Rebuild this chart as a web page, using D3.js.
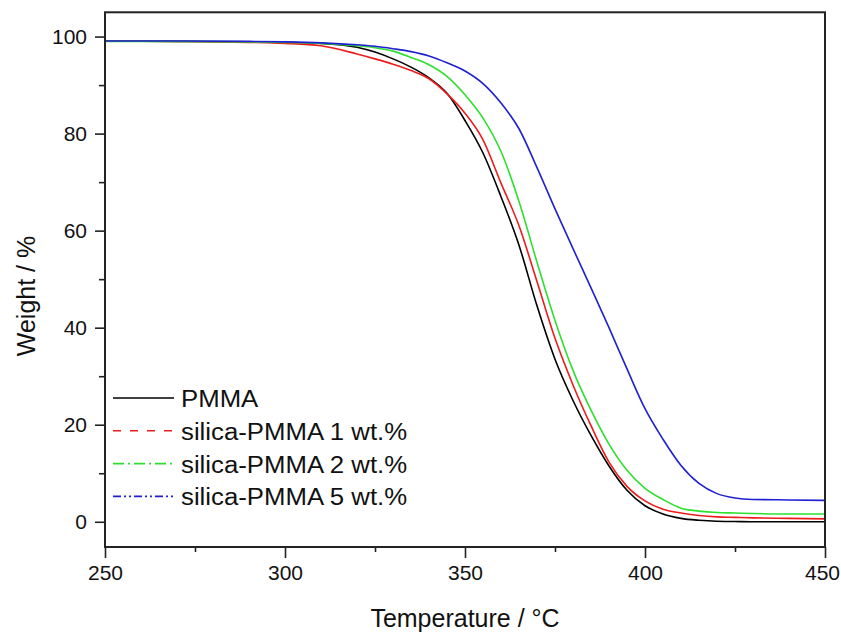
<!DOCTYPE html>
<html>
<head>
<meta charset="utf-8">
<script src="https://cdn.jsdelivr.net/npm/d3@7"></script>
<style>
  body { margin: 0; background: #fff; }
  text { font-family: Arial, "Liberation Sans", sans-serif; fill: #111; }
</style>
</head>
<body>
<div id="chart"></div>
<script>
// temperature grid (°C) and weight (%)
const temperatures = [250, 270, 290, 300, 310, 320, 325, 330, 335, 340, 345, 350, 355, 360, 365,
  370, 375, 380, 385, 390, 395, 400, 405, 410, 415, 420, 425, 430, 440, 450];
const pmma = [99.1, 99.0, 98.9, 98.8, 98.6, 97.8, 96.8, 95.4, 93.7, 91.5, 88.3, 82.7, 76.0, 67.0, 57.0,
  44.5, 33.5, 25.0, 17.8, 11.5, 6.5, 3.3, 1.6, 0.7, 0.3, 0.1, 0.05, 0.0, 0.0, 0.0];
const silica1 = [99.1, 99.0, 98.8, 98.6, 98.1, 96.4, 95.4, 94.3, 93.0, 91.3, 88.2, 84.2, 78.7, 69.8, 61.0,
  49.5, 37.8, 28.2, 19.8, 12.3, 7.3, 4.3, 2.6, 1.8, 1.3, 1.0, 0.9, 0.8, 0.7, 0.6];
const silica2 = [99.0, 99.0, 98.9, 98.8, 98.6, 98.1, 97.7, 97.0, 95.7, 94.2, 91.8, 88.0, 83.2, 76.3, 66.0,
  53.5, 41.5, 31.2, 23.0, 16.0, 10.6, 6.9, 4.6, 2.8, 2.2, 1.9, 1.8, 1.7, 1.6, 1.6];
const silica5 = [99.1, 99.1, 99.0, 98.9, 98.7, 98.3, 98.0, 97.5, 96.9, 96.0, 94.6, 92.9, 90.3, 86.3, 81.0,
  73.0, 64.5, 56.3, 48.2, 40.0, 31.5, 23.3, 17.0, 11.6, 7.9, 5.8, 4.9, 4.6, 4.5, 4.4];

const seriesNames = ['PMMA', 'silica-PMMA 1 wt.%', 'silica-PMMA 2 wt.%', 'silica-PMMA 5 wt.%'];
const xTicks = [250, 300, 350, 400, 450];
const xMinorTicks = [275, 325, 375, 425];
const yTicks = [0, 20, 40, 60, 80, 100];
const yMinorTicks = [10, 30, 50, 70, 90];

// styling for each series (same order as seriesNames)
const colours = ['#000000', '#ee1c1c', '#2ee02e', '#2020d2'];
const legendDashes = [null, '8,9', '11,4,2,4', '8,3,2,3,2,3'];

const config = {
  width: 841, height: 632,
  margin: { top: 12.3, right: 16, bottom: 85, left: 105 }
};
const innerW = config.width - config.margin.left - config.margin.right;
const innerH = config.height - config.margin.top - config.margin.bottom;

const series = [pmma, silica1, silica2, silica5].map((vals, i) => ({
  name: seriesNames[i],
  values: temperatures.map((t, j) => ({ t: t, w: vals[j] }))
}));

const svg = d3.select('#chart').append('svg')
    .attr('width', config.width)
    .attr('height', config.height);

const chartArea = svg.append('g')
    .attr('transform', `translate(${config.margin.left},${config.margin.top})`);

// scales
const xScale = d3.scaleLinear().domain([250, 450]).range([0, innerW]);
const yScale = d3.scaleLinear().domain([-5.2, 105]).range([innerH, 0]);

// axes: major + minor ticks, outward
const xAxis = chartArea.append('g')
    .attr('transform', `translate(0,${innerH})`)
    .call(d3.axisBottom(xScale).tickValues(xTicks).tickSize(11).tickPadding(6).tickFormat(d3.format('d')));
chartArea.append('g')
    .attr('transform', `translate(0,${innerH})`)
    .call(d3.axisBottom(xScale).tickValues(xMinorTicks).tickSize(5).tickFormat(''));
const yAxis = chartArea.append('g')
    .call(d3.axisLeft(yScale).tickValues(yTicks).tickSize(10).tickPadding(8).tickFormat(d3.format('d')));
chartArea.append('g')
    .call(d3.axisLeft(yScale).tickValues(yMinorTicks).tickSize(6).tickFormat(''));

chartArea.selectAll('.domain').remove();
chartArea.selectAll('.tick line').attr('stroke', '#222').attr('stroke-width', 1.6);
chartArea.selectAll('.tick text').attr('font-size', 21).attr('fill', '#111');
xAxis.selectAll('.tick text').attr('dy', '0.75em');
// keep the last label inside the page
xAxis.selectAll('.tick text').filter(d => d === 450).attr('x', -3);

// curves
const line = d3.line()
    .x(d => xScale(d.t))
    .y(d => yScale(d.w))
    .curve(d3.curveMonotoneX);

chartArea.selectAll('.curve')
    .data(series)
    .join('path')
    .attr('class', 'curve')
    .attr('fill', 'none')
    .attr('stroke', (d, i) => colours[i])
    .attr('stroke-width', 1.6)
    .attr('d', d => line(d.values));

// frame
chartArea.append('rect')
    .attr('width', innerW)
    .attr('height', innerH)
    .attr('fill', 'none')
    .attr('stroke', '#222')
    .attr('stroke-width', 2);

// legend
const legend = chartArea.append('g')
    .attr('transform', `translate(8,${386 - config.margin.top})`);
const rows = legend.selectAll('.legend-row')
    .data(series)
    .join('g')
    .attr('class', 'legend-row')
    .attr('transform', (d, i) => `translate(0,${i * 32.8})`);
rows.append('line')
    .attr('x1', 0).attr('x2', 61)
    .attr('y1', 12).attr('y2', 12)
    .attr('stroke', (d, i) => colours[i])
    .attr('stroke-width', 1.6)
    .attr('stroke-dasharray', (d, i) => legendDashes[i]);
rows.append('text')
    .attr('x', 68)
    .attr('y', 21)
    .attr('font-size', 23)
    .text(d => d.name)
    .each(function() {
      // the original legend font is a bit wider than Arial
      const len = this.getComputedTextLength();
      d3.select(this).attr('textLength', len * 1.12).attr('lengthAdjust', 'spacingAndGlyphs');
    });

// axis titles
svg.append('text')
    .attr('x', 465)
    .attr('y', 627)
    .attr('text-anchor', 'middle')
    .attr('font-size', 25)
    .text('Temperature / °C');

svg.append('text')
    .attr('transform', 'translate(35,296) rotate(-90)')
    .attr('text-anchor', 'middle')
    .attr('font-size', 25)
    .text('Weight / %');
</script>
</body>
</html>
